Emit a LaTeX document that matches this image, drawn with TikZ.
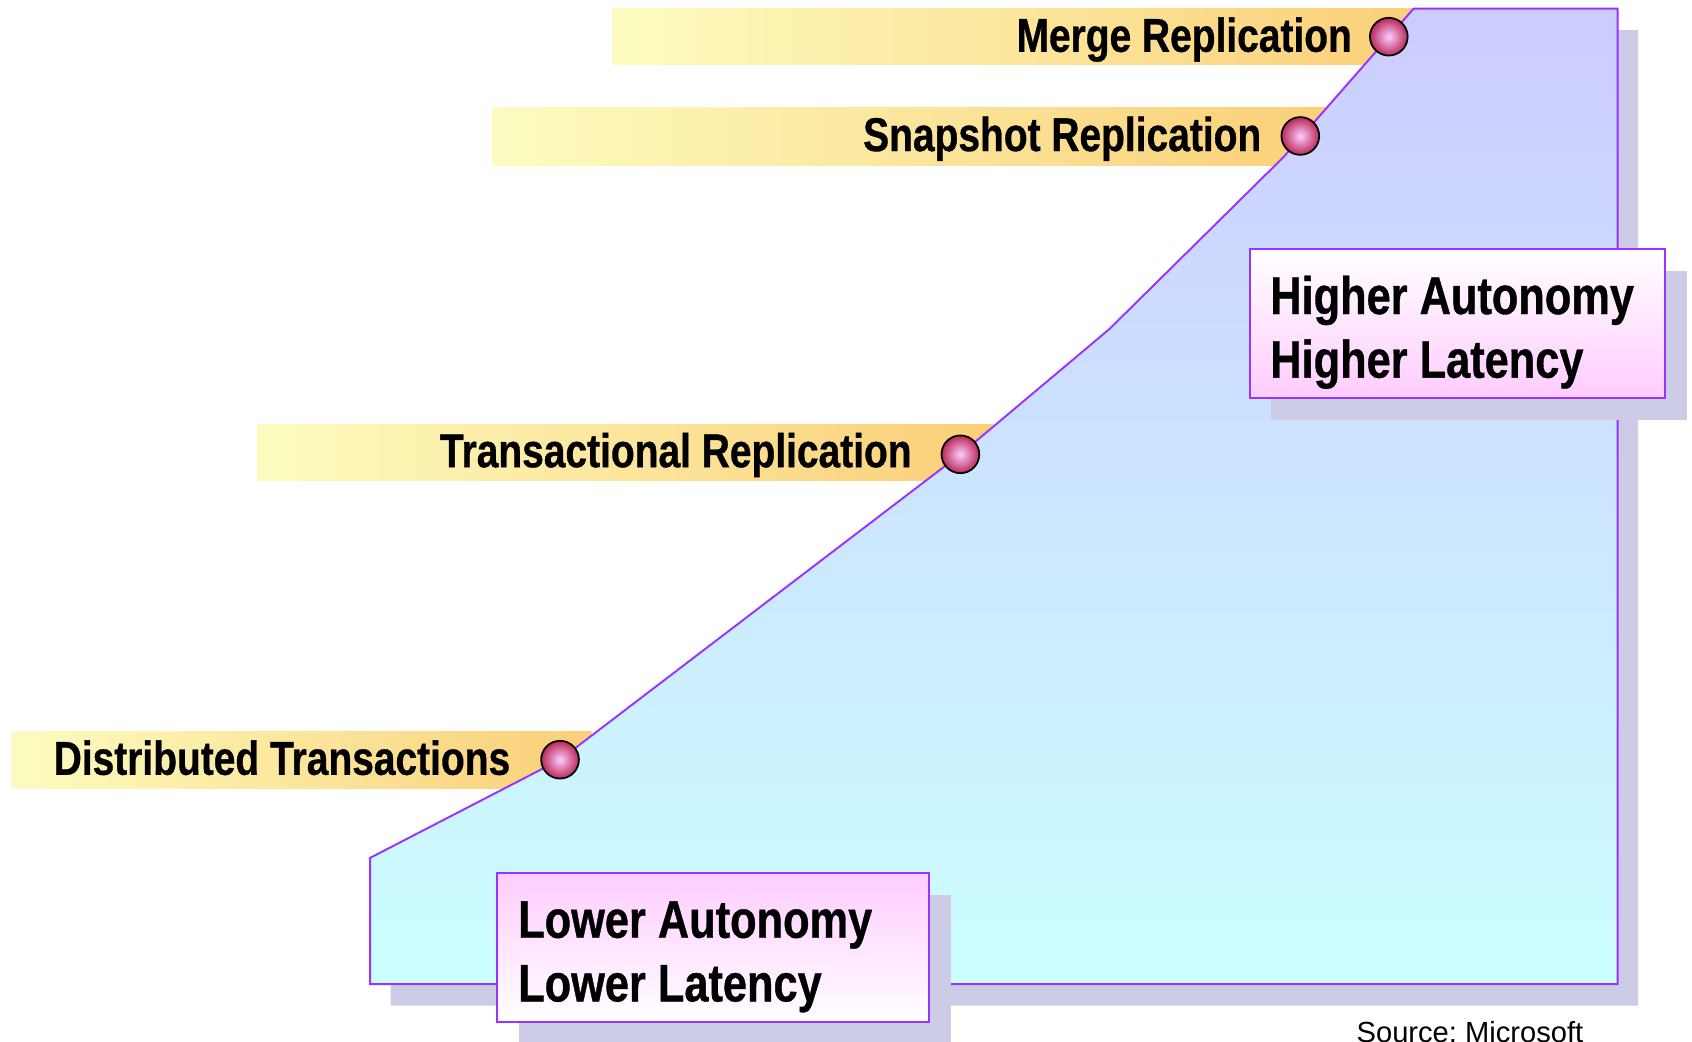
\documentclass[tikz,border=0pt]{standalone}
\usepackage{fontspec}
\setmainfont{Liberation Sans}
\newfontfamily\nb[FakeStretch=0.82,FakeBold=0.7]{Liberation Sans}
\definecolor{polytop}{HTML}{CCCCFF}
\definecolor{polybot}{HTML}{CCFFFF}
\definecolor{purp}{HTML}{9933FF}
\definecolor{shad}{HTML}{CCCCE6}
\definecolor{pinkbox}{HTML}{FFCCFF}
\definecolor{bandL}{HTML}{FCFCC0}
\definecolor{bandR}{HTML}{FBCF78}
\definecolor{ballout}{HTML}{B82858}
\definecolor{ballin}{HTML}{FFCCFF}
\tikzset{
  ball/.style={circle, minimum size=35pt, inner sep=0pt, draw=black, line width=1.6pt, inner color=ballin, outer color=ballout},
  bandtext/.style={anchor=base east, inner sep=0pt, font=\nb\bfseries\fontsize{44}{50}\selectfont},
  boxtext/.style={anchor=base west, inner sep=0pt, font=\nb\bfseries\fontsize{49}{59}\selectfont},
  infobox/.style={draw=purp, line width=1.8pt},
  outline/.style={draw=purp, line width=1.8pt, top color=polytop, bottom color=polybot}
}
\newcommand{\areapath}{(343,795) -- (519,704) -- (890,421) -- (1028,305) -- (1190,145) -- (1310,8) -- (1499,8) -- (1499,912) -- (343,912) -- cycle}
\begin{document}
\frenchspacing
\begin{tikzpicture}[x=1pt,y=-1pt]
\useasboundingbox (0,0) rectangle (1568,965);
% bands
\shade[left color=bandL, right color=bandR] (567,8) rectangle (1320,60);
\shade[left color=bandL, right color=bandR] (456,100) rectangle (1235,153);
\shade[left color=bandL, right color=bandR] (238,393) rectangle (920,445);
\shade[left color=bandL, right color=bandR] (10,678) rectangle (548,731);
% shadow of the area
\begin{scope}[shift={(19pt,-20pt)}]
\fill[shad] \areapath;
\end{scope}
% main area
\path[outline] \areapath;
% boxes
\fill[shad] (1178,251) rectangle (1563,389);
\path[infobox, top color=white, bottom color=pinkbox] (1158,231) rectangle (1543,369);
\fill[shad] (481,829) rectangle (881,967);
\path[infobox, top color=pinkbox, bottom color=white] (461,809) rectangle (861,947);
\node[boxtext] (ha) at (1177,291) {Higher Autonomy};
\node[boxtext] (hl) at (1177,350) {Higher Latency};
\node[boxtext] (la) at (480,869) {Lower Autonomy};
\node[boxtext] (ll) at (480,928) {Lower Latency};
% balls
\node[ball] (m) at (1287,34) {};
\node[ball] (s) at (1205,126) {};
\node[ball] (t) at (890,421) {};
\node[ball] (d) at (519,704) {};
% band labels
\node[bandtext] (mt) at (1253,48) {Merge Replication};
\node[bandtext] (st) at (1169,140) {Snapshot Replication};
\node[bandtext] (tt) at (845,433) {Transactional Replication};
\node[bandtext] (dt) at (473,718) {Distributed Transactions};
% source
\node[anchor=base west, inner sep=0pt, font=\fontsize{27}{30}\selectfont] (src) at (1257,966) {Source: Microsoft};
\end{tikzpicture}
\end{document}
